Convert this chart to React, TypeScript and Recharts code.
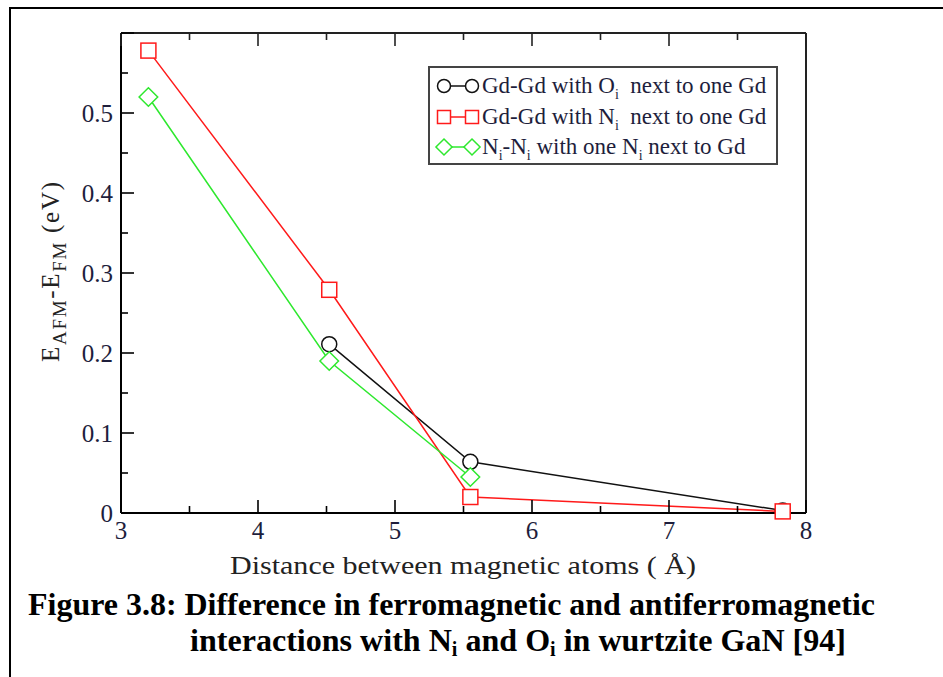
import { LineChart, Line, XAxis, YAxis, Legend, Label } from "recharts"

// distances between the two magnetic atoms (Å)
const distances = [3.2, 4.52, 5.55, 7.83]
// E_AFM - E_FM (eV) per configuration
const gdGdOi = [null, 0.211, 0.064, 0.003]
const gdGdNi = [0.578, 0.279, 0.02, 0.002]
const niNi = [0.52, 0.19, 0.045, null]

const xTicks = [3, 3.5, 4, 4.5, 5, 5.5, 6, 6.5, 7, 7.5, 8]
const xTickLabels = ["3", "4", "5", "6", "7", "8"]
const yTicks = [0, 0.05, 0.1, 0.15, 0.2, 0.25, 0.3, 0.35, 0.4, 0.45, 0.5, 0.55, 0.6]
const yTickLabels = ["0", "0.1", "0.2", "0.3", "0.4", "0.5"]

const table = distances.map((d, i) => ({ d, o: gdGdOi[i], n: gdGdNi[i], nn: niNi[i] }))

const SERIF = "'Liberation Serif', 'Times New Roman', serif"
const TICK_COLOR = "#1e1e3c"
const BLACK = "#111"
const RED = "#ff1a1a"
const GREEN = "#2ee82e"

type TickProps = { x?: number; y?: number; payload?: { value: number } }

const isMajorX = (v: number) => Math.abs(v - Math.round(v)) < 1e-6
const isMajorY = (v: number) => Math.abs(v * 10 - Math.round(v * 10)) < 1e-6

function BottomTick({ x = 0, y = 0, payload }: TickProps) {
  const v = payload?.value ?? 0
  const major = isMajorX(v)
  return (
    <g>
      <line x1={x} x2={x} y1={y} y2={y - (major ? 13 : 7)} stroke="#000" strokeWidth={1.6} />
      {major && (
        <text x={x} y={y + 26} textAnchor="middle" fontSize={25} fontFamily={SERIF} fill={TICK_COLOR}>
          {xTickLabels[Math.round(v) - 3]}
        </text>
      )}
    </g>
  )
}

function TopTick({ x = 0, y = 0, payload }: TickProps) {
  const v = payload?.value ?? 0
  if (v < 3 || v > 8 || x > 810) return <g />
  const major = isMajorX(v)
  return <line x1={x} x2={x} y1={y} y2={y + (major ? 13 : 7)} stroke="#222" strokeWidth={1.6} />
}

function LeftTick({ x = 0, y = 0, payload }: TickProps) {
  const v = payload?.value ?? 0
  const major = isMajorY(v)
  const idx = Math.round(v * 10)
  return (
    <g>
      <line x1={x} x2={x + (major ? 13 : 7)} y1={y} y2={y} stroke="#000" strokeWidth={1.6} />
      {major && idx < yTickLabels.length && (
        <text x={x - 8} y={y} dy="0.35em" textAnchor="end" fontSize={25} fontFamily={SERIF} fill={TICK_COLOR}>
          {yTickLabels[idx]}
        </text>
      )}
    </g>
  )
}

function RightTick({ x = 0, y = 0, payload }: TickProps) {
  const v = payload?.value ?? 0
  if (x > 810) return <g />
  const major = isMajorY(v)
  return <line x1={x} x2={x - (major ? 13 : 7)} y1={y} y2={y} stroke="#222" strokeWidth={1.6} />
}

type DotProps = { cx?: number | null; cy?: number | null; index?: number; value?: unknown }

function marker(kind: string, cx: number, cy: number, s: number, color: string) {
  if (kind === "circle") return <circle cx={cx} cy={cy} r={s * 0.5} fill="#fff" stroke={color} strokeWidth={1.5} />
  if (kind === "square")
    return <rect x={cx - s / 2} y={cy - s / 2} width={s} height={s} fill="#fff" stroke={color} strokeWidth={1.5} />
  const h = s * 0.62
  return (
    <polygon
      points={`${cx},${cy - h} ${cx + h},${cy} ${cx},${cy + h} ${cx - h},${cy}`}
      fill="#fff"
      stroke={color}
      strokeWidth={1.5}
    />
  )
}

const makeDot = (kind: string, color: string) => (p: DotProps) => {
  if (p.cx == null || p.cy == null || p.value == null) return <g key={p.index} />
  return <g key={p.index}>{marker(kind, p.cx, p.cy, 15, color)}</g>
}

const legendRows = [
  { kind: "circle", color: BLACK, parts: [["Gd-Gd with O", ""], ["i", "sub"], ["  next to one Gd", ""]] },
  { kind: "square", color: RED, parts: [["Gd-Gd with N", ""], ["i", "sub"], ["  next to one Gd", ""]] },
  { kind: "diamond", color: GREEN, parts: [["N", ""], ["i", "sub"], ["-N", ""], ["i", "sub"], [" with one N", ""], ["i", "sub"], [" next to Gd", ""]] },
]

function LegendBox() {
  return (
    <div
      style={{
        width: 346,
        height: 92,
        border: "2px solid #444",
        background: "#fff",
        fontFamily: SERIF,
        fontSize: 23,
        color: TICK_COLOR,
        padding: "3px 0 0 0",
        boxSizing: "content-box",
      }}
    >
      {legendRows.map((r, i) => (
        <div key={i} style={{ display: "flex", alignItems: "center", height: 30.5, whiteSpace: "pre", lineHeight: "24px" }}>
          <svg width={52} height={24} style={{ flex: "none" }}>
            <line x1={14} x2={42} y1={12} y2={12} stroke={r.color} strokeWidth={1.5} />
            {marker(r.kind, 14, 12, 13, r.color)}
            {marker(r.kind, 42, 12, 13, r.color)}
          </svg>
          <span>
            {r.parts.map(([t, k], j) =>
              k === "sub" ? (
                <sub key={j} style={{ fontSize: 14, verticalAlign: "-6px", lineHeight: 0 }}>{t}</sub>
              ) : (
                <span key={j}>{t}</span>
              )
            )}
          </span>
        </div>
      ))}
    </div>
  )
}

export default function App() {
  return (
    <div style={{ position: "absolute", left: 0, top: 0, width: 943, height: 677, background: "#fff", overflow: "hidden" }}>
      <div style={{ position: "absolute", left: 9, top: 7, width: 934, height: 2, background: "#000" }} />
      <div style={{ position: "absolute", left: 9, top: 7, width: 2, height: 670, background: "#000" }} />
      <div style={{ position: "absolute", left: 0, top: 0 }}>
        <LineChart width={943} height={677} data={table} margin={{ top: 3, right: 77, bottom: 134, left: 61 }}>
          <XAxis
            xAxisId="b"
            dataKey="d"
            type="number"
            domain={[3, 8]}
            ticks={xTicks}
            interval={0}
            height={30}
            tickSize={0}
            tickMargin={0}
            tickLine={false}
            tick={<BottomTick />}
            axisLine={{ stroke: "#000", strokeWidth: 2 }}
          >
            <Label
              content={() => (
                <text x={463} y={574} textAnchor="middle" fontSize={25} fontFamily={SERIF} fill="#222" textLength={466} lengthAdjust="spacingAndGlyphs">
                  Distance between magnetic atoms ( Å)
                </text>
              )}
            />
          </XAxis>
          <XAxis
            xAxisId="t"
            dataKey="d"
            orientation="top"
            type="number"
            domain={[3, 8]}
            ticks={xTicks}
            interval={0}
            height={30}
            tickSize={0}
            tickMargin={0}
            tickLine={false}
            tick={<TopTick />}
            axisLine={{ stroke: "#222", strokeWidth: 2 }}
          />
          <YAxis
            yAxisId="l"
            type="number"
            domain={[0, 0.6]}
            ticks={yTicks}
            interval={0}
            width={60}
            tickSize={0}
            tickMargin={0}
            tickLine={false}
            tick={<LeftTick />}
            axisLine={{ stroke: "#000", strokeWidth: 2 }}
          >
            <Label
              content={() => (
                <text
                  transform="translate(59,272) rotate(-90)"
                  textAnchor="middle"
                  fontSize={25}
                  fontFamily={SERIF}
                  fill="#222"
                  textLength={180}
                  lengthAdjust="spacing"
                >
                  E<tspan dy={7} fontSize={19}>AFM</tspan>
                  <tspan dy={-7}>-E</tspan>
                  <tspan dy={7} fontSize={19}>FM</tspan>
                  <tspan dy={-7}> (eV)</tspan>
                </text>
              )}
            />
          </YAxis>
          <YAxis
            yAxisId="r"
            orientation="right"
            type="number"
            domain={[0, 0.6]}
            ticks={yTicks}
            interval={0}
            width={60}
            tickSize={0}
            tickMargin={0}
            tickLine={false}
            tick={<RightTick />}
            axisLine={{ stroke: "#222", strokeWidth: 2 }}
          />
          <Legend
            layout="horizontal"
            align="center"
            verticalAlign="middle"
            content={() => <LegendBox />}
            wrapperStyle={{ left: 428, top: 66, width: 350, height: 98 }}
          />
          <Line
            xAxisId="b"
            yAxisId="l"
            dataKey="o"
            name="Gd-Gd with Oi next to one Gd"
            stroke={BLACK}
            strokeWidth={1.5}
            dot={makeDot("circle", BLACK)}
            isAnimationActive={false}
          />
          <Line
            xAxisId="b"
            yAxisId="l"
            dataKey="n"
            name="Gd-Gd with Ni next to one Gd"
            stroke={RED}
            strokeWidth={1.5}
            dot={makeDot("square", RED)}
            isAnimationActive={false}
          />
          <Line
            xAxisId="b"
            yAxisId="l"
            dataKey="nn"
            name="Ni-Ni with one Ni next to Gd"
            stroke={GREEN}
            strokeWidth={1.5}
            dot={makeDot("diamond", GREEN)}
            isAnimationActive={false}
          />
        </LineChart>
      </div>
      <svg width={943} height={677} style={{ position: "absolute", left: 0, top: 0, pointerEvents: "none" }}>
        <text x={28} y={615} fontSize={32} fontWeight="bold" fontFamily={SERIF} fill="#000" textLength={847} lengthAdjust="spacingAndGlyphs">
          Figure 3.8: Difference in ferromagnetic and antiferromagnetic
        </text>
        <text x={190} y={651} fontSize={32} fontWeight="bold" fontFamily={SERIF} fill="#000" textLength={656} lengthAdjust="spacingAndGlyphs">
          interactions with N<tspan fontSize={20} dy={5}>i</tspan>
          <tspan dy={-5}> and O</tspan>
          <tspan fontSize={20} dy={5}>i</tspan>
          <tspan dy={-5}> in wurtzite GaN [94]</tspan>
        </text>
      </svg>
    </div>
  )
}
